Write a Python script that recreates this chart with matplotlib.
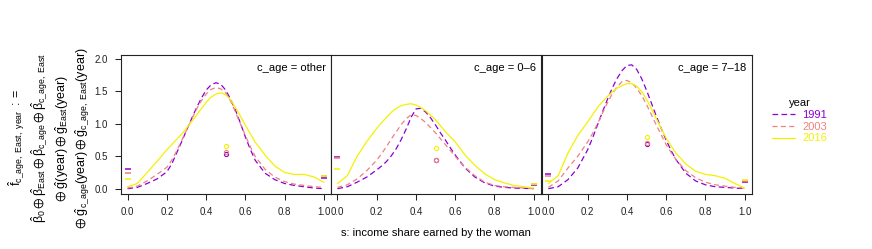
import matplotlib

matplotlib.use("Agg")
import matplotlib.pyplot as plt
from matplotlib.lines import Line2D

plt.rcParams["font.family"] = ["Liberation Sans", "DejaVu Sans"]
plt.rcParams["mathtext.fontset"] = "custom"
plt.rcParams["mathtext.rm"] = "Liberation Sans"
plt.rcParams["mathtext.it"] = "Liberation Sans"
plt.rcParams["mathtext.bf"] = "Liberation Sans:bold"
plt.rcParams["mathtext.fallback"] = "stixsans"

# income shares the fitted densities are read at (finer around the peaks)
s = [0.00, 0.05, 0.10, 0.15, 0.20, 0.225, 0.25, 0.275, 0.30, 0.325, 0.35,
     0.375, 0.40, 0.425, 0.45, 0.475, 0.50, 0.525, 0.55, 0.575, 0.60, 0.625,
     0.65, 0.70, 0.75, 0.80, 0.85, 0.90, 0.95, 1.00]

years = ["1991", "2003", "2016"]
panels = ["other", "0\u20136", "7\u201318"]

# continuous part of the density, one list per (c_age, year)
other_1991 = [0.00, 0.02, 0.08, 0.15, 0.26, 0.38, 0.55, 0.72, 0.90, 1.07, 1.24,
              1.39, 1.52, 1.60, 1.635, 1.61, 1.52, 1.38, 1.21, 1.01, 0.80, 0.61,
              0.44, 0.24, 0.14, 0.08, 0.05, 0.03, 0.01, 0.00]
other_2003 = [0.01, 0.04, 0.12, 0.22, 0.33, 0.44, 0.58, 0.74, 0.90, 1.06, 1.22,
              1.35, 1.46, 1.53, 1.56, 1.54, 1.48, 1.35, 1.18, 1.00, 0.82, 0.65,
              0.50, 0.30, 0.18, 0.11, 0.07, 0.05, 0.03, 0.02]
other_2016 = [0.03, 0.08, 0.25, 0.42, 0.60, 0.68, 0.76, 0.84, 0.93, 1.03, 1.13,
              1.23, 1.33, 1.41, 1.46, 1.48, 1.45, 1.37, 1.25, 1.12, 0.98, 0.85,
              0.72, 0.52, 0.35, 0.25, 0.22, 0.22, 0.18, 0.10]

young_1991 = [0.00, 0.03, 0.10, 0.18, 0.29, 0.35, 0.42, 0.51, 0.62, 0.76, 0.92,
              1.10, 1.23, 1.24, 1.18, 1.09, 0.98, 0.86, 0.75, 0.63, 0.52, 0.42,
              0.32, 0.18, 0.09, 0.04, 0.02, 0.01, 0.005, 0.00]
young_2003 = [0.02, 0.06, 0.15, 0.28, 0.44, 0.54, 0.65, 0.77, 0.88, 0.99, 1.08,
              1.14, 1.13, 1.08, 1.02, 0.94, 0.86, 0.77, 0.68, 0.59, 0.50, 0.41,
              0.33, 0.20, 0.10, 0.05, 0.03, 0.02, 0.01, 0.00]
young_2016 = [0.08, 0.20, 0.50, 0.73, 0.93, 1.02, 1.10, 1.18, 1.24, 1.28, 1.30,
              1.31, 1.29, 1.25, 1.20, 1.13, 1.06, 0.97, 0.88, 0.80, 0.72, 0.62,
              0.52, 0.36, 0.23, 0.14, 0.09, 0.05, 0.03, 0.01]

older_1991 = [0.00, 0.03, 0.14, 0.32, 0.60, 0.78, 0.98, 1.18, 1.37, 1.55, 1.70,
              1.82, 1.90, 1.91, 1.84, 1.70, 1.52, 1.32, 1.12, 0.93, 0.75, 0.59,
              0.45, 0.24, 0.12, 0.06, 0.03, 0.02, 0.01, 0.00]
older_2003 = [0.02, 0.12, 0.32, 0.50, 0.72, 0.85, 1.00, 1.16, 1.32, 1.46, 1.57,
              1.65, 1.67, 1.63, 1.55, 1.44, 1.30, 1.14, 0.98, 0.83, 0.68, 0.56,
              0.45, 0.28, 0.17, 0.10, 0.06, 0.04, 0.02, 0.01]
older_2016 = [0.08, 0.20, 0.55, 0.82, 1.03, 1.14, 1.25, 1.34, 1.42, 1.49, 1.55,
              1.59, 1.62, 1.62, 1.58, 1.50, 1.38, 1.24, 1.08, 0.93, 0.78, 0.66,
              0.55, 0.38, 0.27, 0.22, 0.20, 0.16, 0.08, 0.01]

curves = [
    [other_1991, other_2003, other_2016],
    [young_1991, young_2003, young_2016],
    [older_1991, older_2003, older_2016],
]

# point masses at s = 0, s = 1 and s = 0.5, per panel, order 1991/2003/2016
mass_at_0 = [[0.30, 0.24, 0.15], [0.49, 0.48, 0.31], [0.22, 0.19, 0.12]]
mass_at_1 = [[0.17, 0.19, 0.20], [0.06, 0.07, 0.07], [0.10, 0.12, 0.14]]
mass_at_half = [[0.53, 0.56, 0.66], [0.45, 0.45, 0.63], [0.69, 0.70, 0.80]]

colors = ["#8a00d4", "#f08080", "#f2f200"]
styles = [dict(linestyle=(0, (4.5, 2.7))), dict(linestyle=(0, (4.0, 2.7))),
          dict(linestyle="-")]

W, H = 872, 249
fig = plt.figure(figsize=(W / 100, H / 100), dpi=100)

left_px = [120.7, 330.6, 541.5]
panel_w, top_px, bot_px = 210.0, 55.0, 194.0

for i, name in enumerate(panels):
    ax = fig.add_axes([left_px[i] / W, 1 - bot_px / H, panel_w / W,
                       (bot_px - top_px) / H])
    for j in range(3):
        ax.plot(s, curves[i][j], color=colors[j], lw=0.9, **styles[j])
        ax.plot([0], [mass_at_0[i][j]], marker="_", ms=4.5, mew=1.1,
                color=colors[j], ls="none")
        ax.plot([1], [mass_at_1[i][j]], marker="_", ms=4.5, mew=1.1,
                color=colors[j], ls="none")
        ax.plot([0.5], [mass_at_half[i][j]], marker="o", ms=3, mew=0.8,
                mfc="none", mec=colors[j], ls="none")

    ax.set_xlim(-0.035, 1.035)
    ax.set_ylim(-0.082, 2.062)
    ax.set_xticks([0, 0.2, 0.4, 0.6, 0.8, 1.0])
    ax.set_xticklabels([f"{v:.1f}" for v in [0, 0.2, 0.4, 0.6, 0.8, 1.0]])
    ax.set_yticks([0, 0.5, 1.0, 1.5, 2.0])
    ax.set_yticklabels([f"{v:.1f}" for v in [0, 0.5, 1.0, 1.5, 2.0]])
    ax.tick_params(direction="out", length=4, width=0.75, labelsize=7,
                   colors="#222222", pad=5.5)
    if i > 0:
        ax.tick_params(axis="y", left=False, labelleft=False)
    for sp in ax.spines.values():
        sp.set_linewidth(0.8)
        sp.set_color("#222222")
    ax.annotate(f"c_age = {name}", xy=(1, 1), xycoords="axes fraction",
                xytext=(-3.5, -9.5), textcoords="offset points",
                ha="right", va="center", fontsize=8)

fig.text(436 / W, 1 - 233 / H, "s: income share earned by the woman",
         ha="center", va="center", fontsize=8)

# multi-line y label (rotated, drawn line by line)
ylab = [
    (17, r"$\hat{f}_{\mathrm{c\_age,\ East,\ year}}\ :=$"),
    (40, r"$\hat{\beta}_0 \oplus \hat{\beta}_{\mathrm{East}} \oplus "
         r"\hat{\beta}_{\mathrm{c\_age}} \oplus \hat{\beta}_{\mathrm{c\_age,\ East}}$"),
    (62, r"$\oplus\ \hat{g}(\mathrm{year}) \oplus \hat{g}_{\mathrm{East}}(\mathrm{year})$"),
    (83, r"$\oplus\ \hat{g}_{\mathrm{c\_age}}(\mathrm{year}) \oplus "
         r"\hat{g}_{\mathrm{c\_age,\ East}}(\mathrm{year})$"),
]
for x_px, txt in ylab:
    fig.text(x_px / W, 1 - 138 / H, txt, rotation=90, ha="center",
             va="center", fontsize=9)

handles = [Line2D([], [], color=colors[j], lw=0.9, **styles[j]) for j in range(3)]
leg = fig.legend(handles, years, title="year", loc="upper left",
                 bbox_to_anchor=(768 / W, 1 - 94 / H), frameon=False,
                 fontsize=8, title_fontsize=8, handlelength=2.0,
                 handletextpad=0.7, labelspacing=0.15, borderaxespad=0)
for t, c in zip(leg.get_texts(), colors):
    t.set_color(c)

fig.savefig("out.png", dpi=100)
